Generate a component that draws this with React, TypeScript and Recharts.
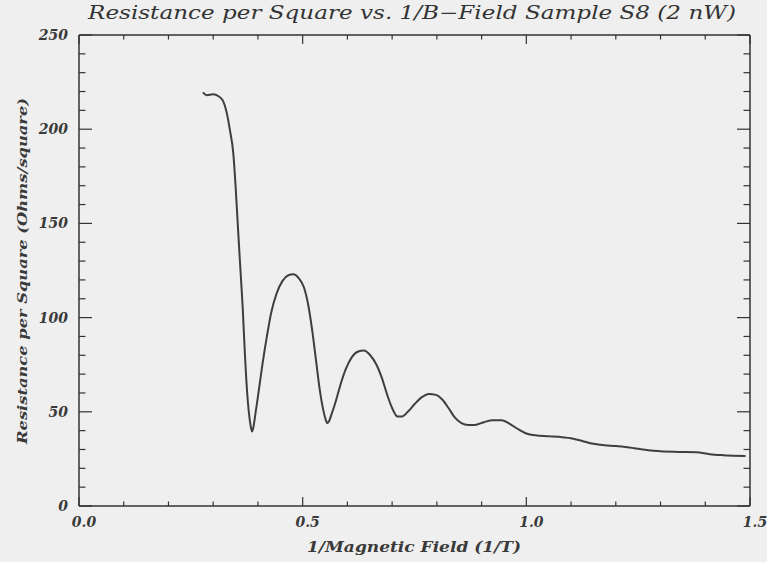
import React from 'react';
import { LineChart, Line, XAxis, YAxis } from 'recharts';

// 1/B (1/T)
const invField = [
  0.277, 0.285, 0.300, 0.312, 0.322, 0.330, 0.337, 0.345, 0.350, 0.356,
  0.361, 0.366, 0.371, 0.376, 0.381, 0.385, 0.387, 0.390, 0.395, 0.400,
  0.410, 0.420, 0.430, 0.442, 0.455, 0.468, 0.479, 0.491, 0.503, 0.513,
  0.522, 0.530, 0.538, 0.546, 0.552, 0.555, 0.559, 0.565, 0.572, 0.584,
  0.597, 0.610, 0.624, 0.637, 0.651, 0.665, 0.677, 0.689, 0.700, 0.712,
  0.722, 0.735, 0.750, 0.765, 0.782, 0.798, 0.812, 0.826, 0.840, 0.855,
  0.870, 0.885, 0.905, 0.925, 0.945, 0.960, 0.980, 1.000, 1.020, 1.050,
  1.080, 1.100, 1.125, 1.150, 1.175, 1.200, 1.230, 1.260, 1.300, 1.340,
  1.380, 1.410, 1.440, 1.490,
];
// Resistance per square (Ohms/square)
const resistance = [
  219.5, 218, 218.5, 217.5, 215, 209, 200, 187, 170, 145,
  125, 105, 80, 60, 47, 41, 39.5, 42, 50, 58,
  75, 90, 103, 113, 119.5, 122.5, 123, 121, 116, 106,
  92, 77, 62, 51, 45.5, 44, 45, 49, 54, 64,
  73, 79, 82, 82.5, 80, 75, 68, 59, 52, 47.5,
  47.5, 50, 54, 57.5, 59.5, 59, 56.5, 52, 47, 44,
  43, 43, 44.5, 45.5, 45.5, 44, 41, 38.5, 37.5, 37,
  36.5, 36, 34.5, 33, 32.2, 31.8, 31, 30, 29, 28.7,
  28.5, 27.5, 27, 26.6,
];

const xTicks = [0, 0.1, 0.2, 0.3, 0.4, 0.5, 0.6, 0.7, 0.8, 0.9, 1.0, 1.1, 1.2, 1.3, 1.4, 1.5];
const yTicks = [
  0, 10, 20, 30, 40, 50, 60, 70, 80, 90, 100, 110, 120, 130, 140, 150, 160, 170, 180, 190,
  200, 210, 220, 230, 240, 250,
];
const xMajorStep = 0.5;
const yMajorStep = 50;

const titleText = 'Resistance per Square vs. 1/B\u2212Field Sample S8 (2 nW)';
const xTitle = '1/Magnetic Field (1/T)';
const yTitle = 'Resistance per Square (Ohms/square)';

const data = invField.map((x, i) => ({ x, r: resistance[i] }));

const INK = '#333333';
const FONT = '"DejaVu Serif", serif';

const isMajor = (v: number, step: number) => Math.abs(v / step - Math.round(v / step)) < 1e-6;

const makeXTick = (side: 'top' | 'bottom') => (props: any) => {
  const { x, y, payload } = props;
  const v = payload.value as number;
  const major = isMajor(v, xMajorStep);
  const len = major ? 9 : 4.5;
  const dir = side === 'top' ? 1 : -1;
  return (
    <g>
      <line x1={x} x2={x} y1={y} y2={y + dir * len} stroke={INK} strokeWidth={1.2} />
      {side === 'bottom' && major && (
        <text x={x + 5} y={y + 21} textAnchor="middle" fontFamily={FONT} fontStyle="italic" fontWeight="bold" fontSize={14} fill="#3a3a3a">
          {v.toFixed(1)}
        </text>
      )}
    </g>
  );
};

const makeYTick = (side: 'left' | 'right') => (props: any) => {
  const { x, y, payload } = props;
  const v = payload.value as number;
  const major = isMajor(v, yMajorStep);
  const len = major ? 13 : 6.5;
  const dir = side === 'left' ? 1 : -1;
  return (
    <g>
      <line x1={x} x2={x + dir * len} y1={y} y2={y} stroke={INK} strokeWidth={1.2} />
      {side === 'left' && major && (
        <text x={x - 11} y={y + 5} textAnchor="end" fontFamily={FONT} fontStyle="italic" fontWeight="bold" fontSize={14} fill="#3a3a3a">
          {String(v)}
        </text>
      )}
    </g>
  );
};

const bottomTick = makeXTick('bottom');
const topTick = makeXTick('top');
const leftTick = makeYTick('left');
const rightTick = makeYTick('right');

export default function App() {
  return (
    <div style={{ position: 'absolute', left: 0, top: 0, width: 767, height: 562, background: '#efefef' }}>
      <LineChart
        width={767}
        height={562}
        data={data}
        margin={{ top: 34, right: 16, bottom: 55, left: 78 }}
      >
        <XAxis
          xAxisId="b"
          dataKey="x"
          type="number"
          domain={[0, 1.5]}
          allowDataOverflow
          ticks={xTicks}
          interval={0}
          height={1}
          tickSize={0}
          tickMargin={0}
          tickLine={false}
          axisLine={{ stroke: INK, strokeWidth: 1.5 }}
          tick={bottomTick}
        />
        <XAxis
          xAxisId="t"
          orientation="top"
          dataKey="x"
          type="number"
          domain={[0, 1.5]}
          allowDataOverflow
          ticks={xTicks}
          interval={0}
          height={1}
          tickSize={0}
          tickMargin={0}
          tickLine={false}
          axisLine={{ stroke: INK, strokeWidth: 1.5 }}
          tick={topTick}
        />
        <YAxis
          yAxisId="l"
          dataKey="r"
          type="number"
          domain={[0, 250]}
          allowDataOverflow
          ticks={yTicks}
          interval={0}
          width={1}
          tickSize={0}
          tickMargin={0}
          tickLine={false}
          axisLine={{ stroke: INK, strokeWidth: 1.5 }}
          tick={leftTick}
        />
        <YAxis
          yAxisId="rr"
          orientation="right"
          dataKey="r"
          type="number"
          domain={[0, 250]}
          allowDataOverflow
          ticks={yTicks}
          interval={0}
          width={1}
          tickSize={0}
          tickMargin={0}
          tickLine={false}
          axisLine={{ stroke: INK, strokeWidth: 1.5 }}
          tick={rightTick}
        />
        <Line
          xAxisId="b"
          yAxisId="l"
          dataKey="r"
          type="monotone"
          stroke="#3f3f3f"
          strokeWidth={2}
          dot={false}
          isAnimationActive={false}
        />
      </LineChart>
      <svg
        width={767}
        height={562}
        style={{ position: 'absolute', left: 0, top: 0, pointerEvents: 'none' }}
      >
        <text
          x={412}
          y={19}
          textAnchor="middle"
          fontFamily={FONT}
          fontStyle="italic"
          fontSize={18}
          fill={INK}
          textLength={648}
          lengthAdjust="spacingAndGlyphs"
        >
          {titleText}
        </text>
        <text
          x={414}
          y={552}
          textAnchor="middle"
          fontFamily={FONT}
          fontStyle="italic"
          fontWeight="bold"
          fontSize={14}
          fill="#3a3a3a"
          textLength={214}
          lengthAdjust="spacingAndGlyphs"
        >
          {xTitle}
        </text>
        <text
          x={0}
          y={0}
          transform="translate(27 271) rotate(-90)"
          textAnchor="middle"
          fontFamily={FONT}
          fontStyle="italic"
          fontWeight="bold"
          fontSize={13}
          fill="#3a3a3a"
          textLength={346}
          lengthAdjust="spacingAndGlyphs"
        >
          {yTitle}
        </text>
      </svg>
    </div>
  );
}
